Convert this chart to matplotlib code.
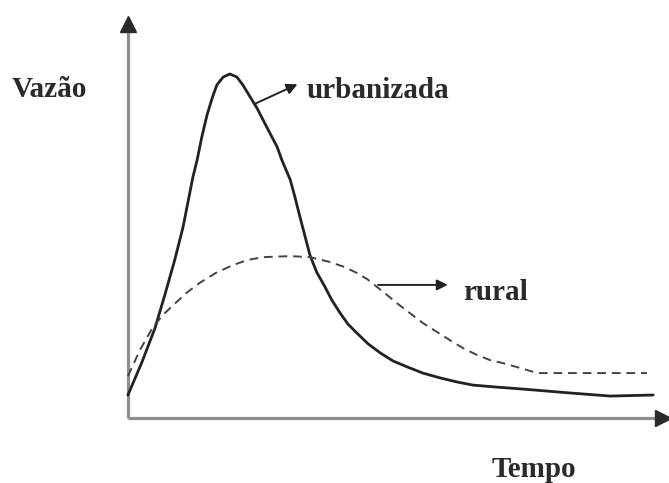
import matplotlib
matplotlib.use("Agg")
import matplotlib.pyplot as plt

# ---- data (arbitrary units) ----
t_urbana = [0.0, 2.7, 5.2, 7.1, 9.0, 10.6, 12.5, 13.3, 14.2, 15.2, 16.2, 17.1,
            18.3, 19.6, 20.96, 22.1, 23.5, 24.8, 26.7, 28.7, 29.6, 31.2, 32.1,
            33.1, 35.0, 36.3, 37.9, 39.2, 40.8, 42.3, 44.0, 46.2, 48.5, 51.0,
            53.7, 56.7, 60.0, 63.3, 66.3, 71.0, 75.4, 85.0, 92.7, 101.0]
q_urbana = [6.7, 16.3, 26.2, 35.9, 46.1, 55.7, 70.3, 75.2, 81.9, 88.3, 93.3, 97.1,
            99.4, 100.3, 99.4, 97.1, 93.6, 90.4, 84.8, 79.0, 75.2, 69.5, 64.5,
            58.5, 47.5, 42.5, 38.2, 34.4, 30.6, 27.4, 24.8, 21.6, 19.0, 16.6,
            14.9, 13.1, 11.7, 10.5, 9.6, 9.0, 8.5, 7.3, 6.4, 6.7]

t_rural = [0.0, 2.3, 4.8, 6.7, 8.7, 11.2, 13.8, 16.9, 20.2, 23.1, 26.0, 31.2,
           35.0, 38.8, 41.7, 44.0, 46.0, 47.9, 49.8, 51.7, 54.2, 56.7, 59.4,
           61.9, 64.4, 67.1, 69.6, 72.1, 75.4, 78.7, 99.8]
q_rural = [12.2, 19.8, 26.5, 30.0, 32.9, 36.4, 39.4, 42.3, 44.6, 46.1, 46.9, 47.2,
           46.9, 45.5, 44.0, 42.3, 40.5, 38.2, 35.9, 33.5, 30.6, 27.7, 25.1,
           22.7, 20.4, 18.4, 16.9, 16.0, 14.6, 13.1, 13.1]

labels = {"urbana": "urbanizada", "rural": "rural", "y": "Vazão", "x": "Tempo"}

# ---- figure ----
fig = plt.figure(figsize=(6.69, 4.83), dpi=100)
ax = fig.add_axes([0, 0, 1, 1])
ax.set_xlim(-24.6, 104.04)
ax.set_ylim(-18.95, 121.87)
ax.axis("off")

serif = ["Liberation Serif", "DejaVu Serif"]
fs = 21

# axes with arrows
axis_col = "#8f8f8f"
ax.plot([0, 0], [0, 113.5], color=axis_col, lw=2.3, solid_capstyle="butt")
ax.plot([0, 101.5], [0, 0], color=axis_col, lw=2.3, solid_capstyle="butt")
ax.plot([0], [115.0], marker="^", markersize=11, color="#2a2a2a", mec="#2a2a2a")
ax.plot([102.9], [0], marker=">", markersize=11, color="#2a2a2a", mec="#2a2a2a")

# curves
ax.plot(t_urbana, q_urbana, color="#222222", lw=2.0,
        solid_joinstyle="round", solid_capstyle="round")
ax.plot(t_rural, q_rural, color="#444444", lw=1.4, linestyle=(0, (4.5, 3.0)))

# annotations
ax.annotate("", xy=(32.6, 97.3), xytext=(24.4, 91.6),
            arrowprops=dict(arrowstyle="-|>", color="#222222", lw=1.4,
                            mutation_scale=16, shrinkA=0, shrinkB=0))
ax.text(34.4, 93.3, labels["urbana"], family=serif, weight="bold", fontsize=fs,
        color="#2a2a2a", va="baseline", ha="left")

ax.annotate("", xy=(61.5, 38.8), xytext=(48.1, 38.8),
            arrowprops=dict(arrowstyle="-|>", color="#222222", lw=1.4,
                            mutation_scale=16, shrinkA=0, shrinkB=0))
ax.text(64.4, 34.4, labels["rural"], family=serif, weight="bold", fontsize=fs,
        color="#2a2a2a", va="baseline", ha="left")

ax.text(-22.3, 93.6, labels["y"], family=serif, weight="bold", fontsize=fs,
        color="#2a2a2a", va="baseline", ha="left")
ax.text(70.0, -17.2, labels["x"], family=serif, weight="bold", fontsize=fs,
        color="#2a2a2a", va="baseline", ha="left")

fig.savefig("out.png", dpi=100)
